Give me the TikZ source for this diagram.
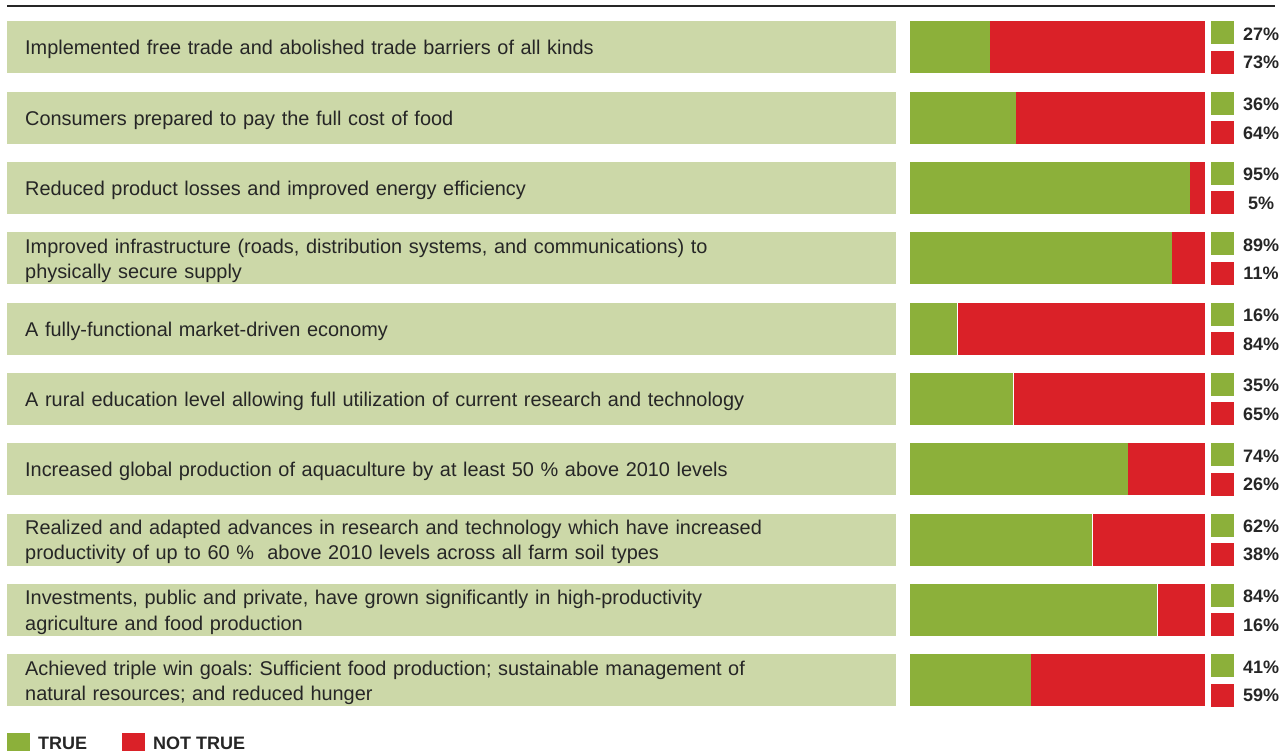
\documentclass[tikz,border=0pt]{standalone}
\usepackage{fontspec}
\setmainfont{Liberation Sans}
\usepackage{tikz}
\usetikzlibrary{positioning}
\frenchspacing

\definecolor{boxgreen}{HTML}{CCD8A8}
\definecolor{yesgreen}{HTML}{8CB03A}
\definecolor{nored}{HTML}{DA2128}
\definecolor{inkgray}{HTML}{262626}

\begin{document}
\begin{tikzpicture}[x=1pt, y=-1pt]
	\tikzstyle{LabelBox}	= [fill=boxgreen, anchor=north west, minimum width=889pt, minimum height=52pt, inner sep=0pt]
	\tikzstyle{LabelText}	= [anchor=west, inner sep=0pt, text width=853pt, align=left, font=\fontsize{19.9}{25.5}\selectfont, text=inkgray]
	\tikzstyle{Seg}		= [anchor=north west, minimum height=52pt, inner sep=0pt]
	\tikzstyle{Yes}		= [Seg, fill=yesgreen]
	\tikzstyle{No}		= [Seg, fill=nored]
	\tikzstyle{Key}		= [anchor=north west, minimum width=23pt, minimum height=23pt, inner sep=0pt]
	\tikzstyle{Pct}		= [font=\bfseries\fontsize{18}{20}\selectfont, text=inkgray, inner sep=0pt]
	\tikzstyle{Legend}	= [font=\bfseries\fontsize{18}{20}\selectfont, text=inkgray, anchor=base west, inner sep=0pt]

	\useasboundingbox (0,0) rectangle (1288,751);
	\clip (0,0) rectangle (1288,751);

	\coordinate (ruleL) at (7,6);
	\coordinate (ruleR) at (1275,6);
	\draw[inkgray, line width=1.2pt] (ruleL) -- (ruleR);

	\foreach \lbl/\yes [count=\i] in {
		{Implemented free trade and abolished trade barriers of all kinds}/27,
		{Consumers prepared to pay the full cost of food}/36,
		{Reduced product losses and improved energy efficiency}/95,
		{Improved infrastructure (roads, distribution systems, and communications) to\\physically secure supply}/89,
		{A fully-functional market-driven economy}/16,
		{A rural education level allowing full utilization of current research and technology}/35,
		{Increased global production of aquaculture by at least 50 \% above 2010 levels}/74,
		{Realized and adapted advances in research and technology which have increased\\productivity of up to 60 \%~ above 2010 levels across all farm soil types}/62,
		{Investments, public and private, have grown significantly in high-productivity\\agriculture and food production}/84,
		{Achieved triple win goals: Sufficient food production; sustainable management of\\natural resources; and reduced hunger}/41}
	{
		\pgfmathsetmacro\top{21+70.33*(\i-1)}
		\pgfmathtruncatemacro\no{100-\yes}
		\node (box\i) [LabelBox] at (7,\top) {};
		\node (lbl\i) [LabelText, xshift=18pt, yshift=-2.5pt] at (box\i.west) {\lbl};
		\node (yes\i) [Yes, minimum width=\yes*2.94pt] at (910,\top) {};
		\node (no\i) [No, minimum width=\no*2.94pt, right=0pt of yes\i.north east, anchor=north west] {};
		\node (keyyes\i) [Key, fill=yesgreen] at (1211,\top) {};
		\node (keyno\i) [Key, fill=nored, below=6pt of keyyes\i] {};
		\node (pctyes\i) [Pct] at (1261,\top+13) {\yes\%};
		\node (pctno\i) [Pct] at (1261,\top+41.5) {\no\%};
	}

	% legend
	\node (legyes) [Key, fill=yesgreen] at (7,733) {};
	\node (legyestxt) [Legend] at (38,749) {TRUE};
	\node (legno) [Key, fill=nored] at (122,733) {};
	\node (legnotxt) [Legend] at (153,749) {NOT TRUE};
\end{tikzpicture}
\end{document}
